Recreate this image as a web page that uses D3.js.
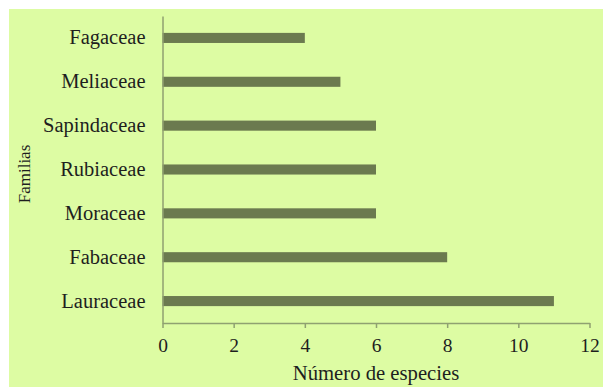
<!DOCTYPE html>
<html>
<head>
<meta charset="utf-8">
<script src="https://cdn.jsdelivr.net/npm/d3@7/dist/d3.min.js"></script>
<style>
  html, body { margin: 0; padding: 0; background: #ffffff; }
  svg { display: block; }
</style>
</head>
<body>
<svg id="chart" width="603" height="387"></svg>
<script>
// Species count per plant family
const familias = ["Fagaceae", "Meliaceae", "Sapindaceae", "Rubiaceae", "Moraceae", "Fabaceae", "Lauraceae"];
const especies = [4, 5, 6, 6, 6, 8, 11];
const xTicks = [0, 2, 4, 6, 8, 10, 12];
const xTitle = "Número de especies";
const yTitle = "Familias";

const W = 603, H = 387;
const plot = { left: 162.5, right: 589.5, top: 16, bottom: 323 };
const axisColor = "#8fa171";
const barColor = "#6b7a4f";
const textColor = "#1e1e1e";
const serif = "Liberation Serif";

const svg = d3.select("#chart");

// chart area fill
svg.append("rect")
  .attr("x", 9).attr("y", 9)
  .attr("width", W - 9).attr("height", H - 9)
  .attr("fill", "#ddfca3");

const x = d3.scaleLinear().domain([0, 12]).range([plot.left, plot.right]);
const y = d3.scaleBand()
  .domain(familias)
  .range([plot.top, plot.bottom])
  .paddingInner(0.77)
  .paddingOuter(0.385);

// bars
svg.append("g")
  .selectAll("rect")
  .data(familias.map((f, i) => ({ f, v: especies[i] })))
  .join("rect")
  .attr("x", x(0))
  .attr("y", d => y(d.f))
  .attr("width", d => x(d.v) - x(0))
  .attr("height", y.bandwidth())
  .attr("fill", barColor);

// x axis
const gx = svg.append("g")
  .attr("transform", `translate(0,${plot.bottom})`)
  .call(d3.axisBottom(x).tickValues(xTicks).tickSizeInner(5).tickSizeOuter(0).tickPadding(10))
  .attr("font-family", serif)
  .attr("font-size", 19.5);
gx.select(".domain").attr("stroke", axisColor).attr("stroke-width", 1.5);
gx.selectAll(".tick line").attr("stroke", axisColor).attr("stroke-width", 1.5);
gx.selectAll(".tick text").attr("fill", textColor);

// y axis
const gy = svg.append("g")
  .attr("transform", `translate(${plot.left},0)`)
  .call(d3.axisLeft(y).tickSize(0).tickPadding(17))
  .attr("font-family", serif)
  .attr("font-size", 20.5);
gy.select(".domain").attr("stroke", axisColor).attr("stroke-width", 1.5);
gy.selectAll(".tick text").attr("fill", textColor);

// axis titles
svg.append("text")
  .attr("x", (plot.left + plot.right) / 2)
  .attr("y", 380)
  .attr("text-anchor", "middle")
  .attr("font-family", serif)
  .attr("font-size", 20.7)
  .attr("fill", textColor)
  .text(xTitle);

svg.append("text")
  .attr("transform", `translate(30,174) rotate(-90)`)
  .attr("text-anchor", "middle")
  .attr("font-family", serif)
  .attr("font-size", 17)
  .attr("fill", textColor)
  .text(yTitle);
</script>
</body>
</html>
